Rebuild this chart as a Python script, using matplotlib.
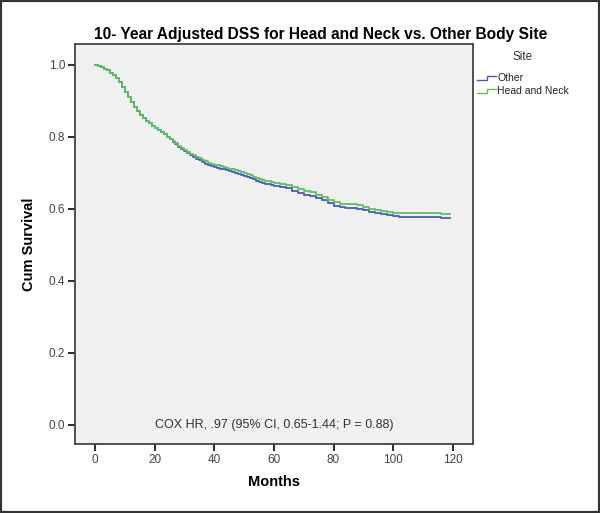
import matplotlib
matplotlib.use("Agg")
import matplotlib.pyplot as plt
from matplotlib.lines import Line2D
from matplotlib.patches import Rectangle

plt.rcParams['font.family'] = ['Liberation Sans', 'DejaVu Sans']

months = [0, 1, 2, 3, 4, 5, 6, 7, 8, 9, 10, 11, 12, 13, 14, 15, 16, 17, 18, 19, 20,
          21, 22, 23, 24, 25, 26, 27, 28, 29, 30, 31, 32, 33, 34, 35, 36, 37, 38, 39, 40,
          41, 42, 43, 44, 45, 46, 47, 48, 49, 50, 51, 52, 53, 54, 55, 56, 57, 58, 59, 60,
          62, 64, 66, 68, 70, 72, 74, 76, 78, 80, 82, 84, 86, 88, 90, 92, 94, 96, 98,
          100, 102, 104, 108, 112, 116, 119]
surv_other = [1.0, 0.998, 0.995, 0.99, 0.985, 0.978, 0.971, 0.963, 0.952, 0.94, 0.926,
              0.911, 0.897, 0.884, 0.872, 0.862, 0.853, 0.845, 0.838, 0.831, 0.825,
              0.819, 0.813, 0.807, 0.80, 0.794, 0.787, 0.78, 0.773, 0.767, 0.761,
              0.755, 0.75, 0.745, 0.74, 0.735, 0.73, 0.726, 0.722, 0.719, 0.716,
              0.714, 0.712, 0.71, 0.708, 0.705, 0.703, 0.70, 0.698, 0.695, 0.692,
              0.689, 0.685, 0.682, 0.678, 0.675, 0.672, 0.67, 0.668, 0.666, 0.664,
              0.661, 0.657, 0.651, 0.645, 0.64, 0.636, 0.63, 0.624, 0.616, 0.608,
              0.605, 0.604, 0.603, 0.60, 0.596, 0.592, 0.588, 0.585, 0.582,
              0.58, 0.579, 0.578, 0.578, 0.578, 0.576, 0.576]
surv_hn = [1.0, 0.998, 0.995, 0.99, 0.985, 0.978, 0.971, 0.963, 0.952, 0.94, 0.926,
           0.911, 0.897, 0.884, 0.872, 0.862, 0.853, 0.845, 0.838, 0.831, 0.825,
           0.819, 0.813, 0.807, 0.801, 0.795, 0.789, 0.782, 0.776, 0.77, 0.764,
           0.759, 0.754, 0.749, 0.745, 0.741, 0.737, 0.733, 0.729, 0.726, 0.723,
           0.721, 0.719, 0.717, 0.715, 0.712, 0.71, 0.708, 0.706, 0.703, 0.70,
           0.697, 0.693, 0.69, 0.687, 0.684, 0.681, 0.679, 0.677, 0.675, 0.673,
           0.67, 0.667, 0.661, 0.655, 0.65, 0.646, 0.64, 0.634, 0.626, 0.618,
           0.615, 0.614, 0.613, 0.61, 0.606, 0.601, 0.597, 0.594, 0.591,
           0.589, 0.588, 0.588, 0.588, 0.588, 0.586, 0.586]
series_names = ["Other", "Head and Neck"]
series_colors = ["#4a5ab8", "#5cc060"]
x_ticks = [0, 20, 40, 60, 80, 100, 120]
y_ticks = [0.0, 0.2, 0.4, 0.6, 0.8, 1.0]

fig = plt.figure(figsize=(6.0, 5.13), dpi=100)
ax = fig.add_axes([0.125, 0.1345, 0.663, 0.7795])
ax.set_facecolor("#f0f0f0")

ax.plot(months, surv_other, drawstyle="steps-post", color=series_colors[0], lw=1.3)
ax.plot(months, surv_hn, drawstyle="steps-post", color=series_colors[1], lw=1.3)

ax.set_xlim(-6.7, 126.7)
ax.set_ylim(-0.053, 1.058)
ax.set_xticks(x_ticks)
ax.set_xticklabels([str(t) for t in x_ticks])
ax.set_yticks(y_ticks)
ax.set_yticklabels([f"{t:.1f}" for t in y_ticks])
ax.tick_params(axis="both", direction="out", length=5, width=1.5, color="#333333",
               labelsize=8.5, labelcolor="#444444", pad=2)
for s in ax.spines.values():
    s.set_color("#444444")
    s.set_linewidth(1.3)

ax.set_xlabel("Months", fontsize=10.5, fontweight="bold", labelpad=7)
ax.set_ylabel("Cum Survival", fontsize=10.5, fontweight="bold", labelpad=9)
fig.text(0.535, 0.932, "10- Year Adjusted DSS for Head and Neck vs. Other Body Site",
         ha="center", va="center", fontsize=11.2, fontweight="bold")
ax.text(60, 0.0, "COX HR, .97 (95% CI, 0.65-1.44; P = 0.88)", ha="center", va="center",
        fontsize=9, color="#333333")

# legend
W, H = 600.0, 513.0
fig.text(523 / W, 1 - 57 / H, "Site", ha="center", va="center", fontsize=8.5, color="#333333")
for i, (name, col) in enumerate(zip(series_names, series_colors)):
    yc = 78 + i * 13
    xs = [477, 487, 487, 496]
    ys = [yc + 1.5, yc + 1.5, yc - 2, yc - 2]
    fig.add_artist(Line2D([x / W for x in xs], [1 - y / H for y in ys], color=col, lw=1.0))
    fig.text(497 / W, 1 - yc / H, name, ha="left", va="center", fontsize=7.5, color="#222222")

fig.add_artist(Rectangle((0, 0), 1, 1, transform=fig.transFigure, fill=False,
                         edgecolor="#333333", lw=3))

fig.savefig("out.png", dpi=100)
